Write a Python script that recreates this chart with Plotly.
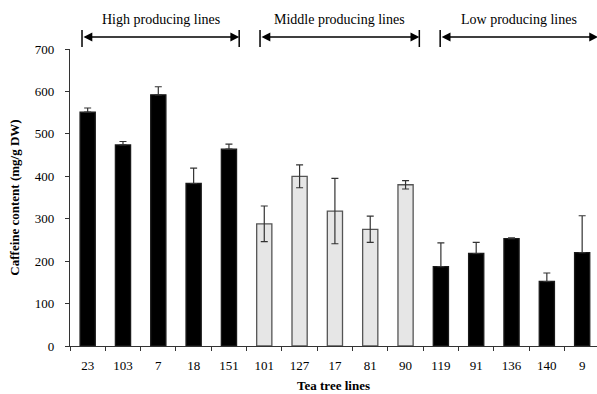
import plotly.graph_objects as go

lines = ["23", "103", "7", "18", "151", "101", "127", "17", "81", "90",
         "119", "91", "136", "140", "9"]
caffeine = [551, 474, 592, 383, 464, 288, 400, 318, 275, 380,
            187, 218, 253, 152, 220]
errors = [10, 8, 19, 36, 12, 42, 27, 77, 31, 10,
          56, 26, 2, 20, 87]
groups = ["High", "High", "High", "High", "High",
          "Middle", "Middle", "Middle", "Middle", "Middle",
          "Low", "Low", "Low", "Low", "Low"]
group_labels = ["High producing lines", "Middle producing lines", "Low producing lines"]

fill = {"High": "#000000", "Middle": "#e6e6e6", "Low": "#000000"}
edge = {"High": "#1a1a1a", "Middle": "#555555", "Low": "#1a1a1a"}
# lower whiskers are hidden inside the black bars
lower = [e if g == "Middle" else 0 for e, g in zip(errors, groups)]

fig = go.Figure()
fig.add_trace(go.Bar(
    x=lines, y=caffeine, width=0.43,
    marker=dict(color=[fill[g] for g in groups],
                line=dict(color=[edge[g] for g in groups], width=1.3)),
    error_y=dict(type="data", array=errors, arrayminus=lower, symmetric=False,
                 visible=True, color="#333333", thickness=1.2, width=3.5),
    showlegend=False,
))

font = "Liberation Serif, Times New Roman, serif"
spans = [(-0.16, 4.29), (4.88, 9.39), (9.98, 14.45)]
shapes = []
annotations = []
for (a, b), lab in zip(spans, group_labels):
    for xv in (a, b):
        if xv < 14.4:
            shapes.append(dict(type="line", xref="x", yref="paper",
                               x0=xv, x1=xv, y0=1.0067, y1=1.064,
                               line=dict(color="black", width=1.5)))
    annotations.append(dict(x=b, y=1.0404, xref="x", yref="paper",
                            ax=a, ay=0, axref="x", ayref="pixel",
                            text="", showarrow=True, arrowside="end+start",
                            arrowhead=2, arrowsize=1.1, arrowwidth=1.6,
                            arrowcolor="black", standoff=0, startstandoff=0))
    annotations.append(dict(x=(a + b) / 2, y=1.101, xref="x", yref="paper",
                            yanchor="middle", xanchor="center",
                            text=lab, showarrow=False,
                            font=dict(family=font, size=14, color="black")))

fig.update_layout(
    width=597, height=394,
    margin=dict(l=70, r=0, t=49, b=48),
    paper_bgcolor="white", plot_bgcolor="white",
    font=dict(family=font, size=13, color="black"),
    shapes=shapes, annotations=annotations,
    xaxis=dict(type="category", tickson="boundaries",
               range=[-0.5, 14.42], showline=True, linecolor="#333333",
               linewidth=1.2, ticks="outside", ticklen=4, tickcolor="#333333",
               ticklabelstandoff=7,
               showgrid=False, zeroline=False,
               title=dict(text="<b>Tea tree lines</b>", standoff=9,
                          font=dict(family=font, size=13))),
    yaxis=dict(range=[0, 700], dtick=100, showline=True, linecolor="#333333",
               linewidth=1.2, ticks="outside", ticklen=4, tickcolor="#333333",
               ticklabelstandoff=8,
               showgrid=False, zeroline=False,
               title=dict(text="<b>Caffeine content (mg/g DW)</b>", standoff=12,
                          font=dict(family=font, size=13))),
)
fig.write_html("out.html")
